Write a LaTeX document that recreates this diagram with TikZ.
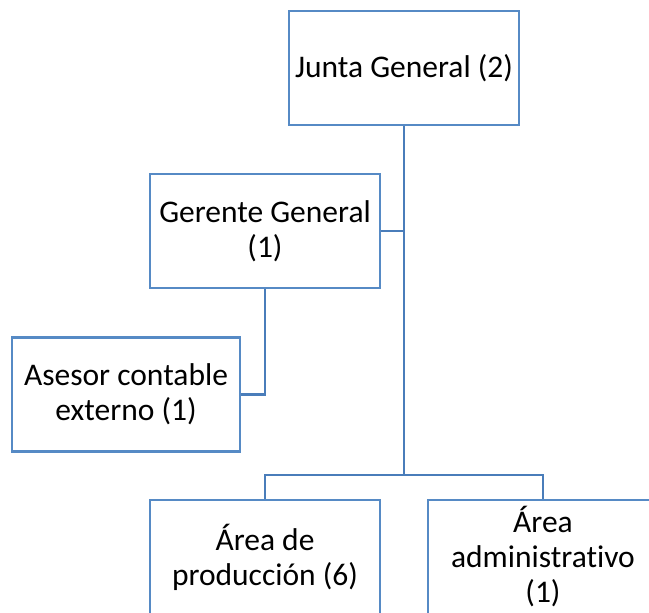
\documentclass[tikz,border=0pt]{standalone}
\usepackage{fontspec}
\setmainfont{Carlito}[Ligatures=NoCommon]
\definecolor{borde}{RGB}{86,138,197}
\definecolor{linea}{RGB}{74,125,186}
\tikzset{
  caja/.style={draw=borde, line width=2.4pt, fill=white, minimum width=230pt,
    minimum height=114pt, align=center, inner sep=0pt,
    font=\fontsize{31.5}{35}\selectfont},
  enlace/.style={draw=linea, line width=2.8pt}
}
\begin{document}
\begin{tikzpicture}[x=1pt, y=-1pt]
\clip (0,0) rectangle (649,613);
\fill[white] (0,0) rectangle (649,613);

\node[caja] (junta) at (404,68) {Junta General (2)};
\node[caja] (gerente) at (265,231) {Gerente General\\(1)};
\node[caja, minimum width=228pt] (asesor) at (126,394.5) {Asesor contable\\externo (1)};
\node[caja] (prod) at (265,557) {Área de\\producción (6)};
\node[caja] (admin) at (543,557) {Área\\administrativo\\(1)};
\coordinate (bus) at (404,475);

\draw[enlace] (junta.south) -- (bus);
\draw[enlace] (gerente.east) -- (gerente.east -| junta.south);
\draw[enlace] (gerente.south) |- (asesor.east);
\draw[enlace] (prod.north) |- (bus) -| (admin.north);

\end{tikzpicture}
\end{document}
